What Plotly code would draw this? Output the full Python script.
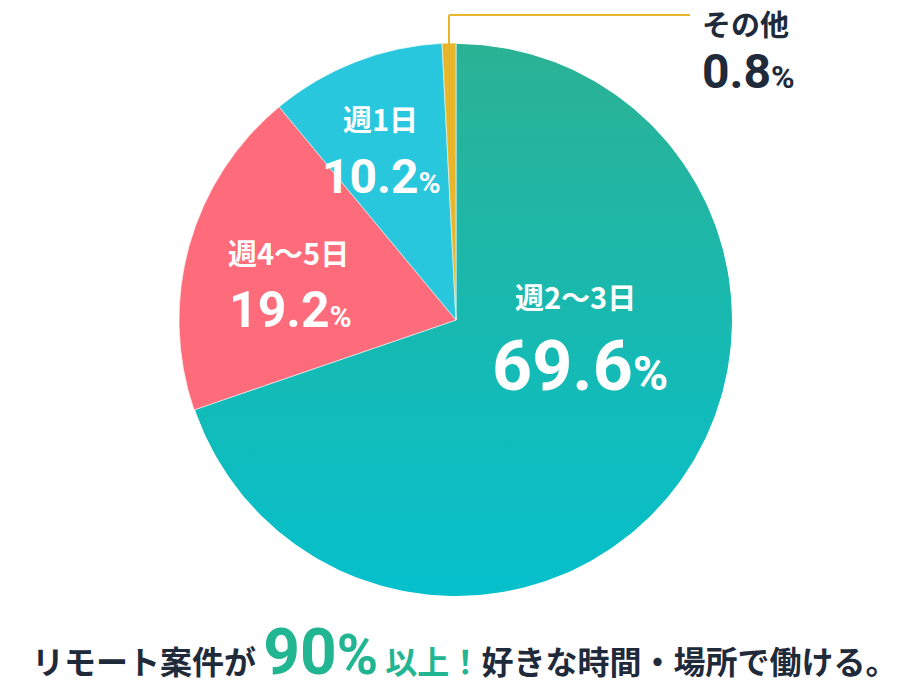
import numpy as np
import plotly.graph_objects as go

labels = ["週2〜3日", "週4〜5日", "週1日", "その他"]
values = [69.6, 19.2, 10.2, 0.8]
colors = ["rgba(0,0,0,0)", "#fe6b7a", "#28c7dd", "#e9b52a"]
grad_top, grad_bottom = "#2bb294", "#05c0cc"   # gradient of the main slice

W, H = 900, 692
CX, CY, R = 456, 320, 277  # pixel geometry of the pie

def px(x):
    return x / W

def py(y):
    return (H - y) / H

FONT = "Noto Sans CJK JP"
NUM = "Roboto"
DARK = "#1f2a3a"
GREEN = "#22b592"

fig = go.Figure()

# gradient backdrop for the main (transparent) slice
t = np.linspace(0, 2 * np.pi, 361)
fig.add_trace(go.Scatter(
    x=CX + (R - 1) * np.cos(t), y=(H - CY) + (R - 1) * np.sin(t),
    mode="lines", line=dict(width=0), fill="toself",
    fillgradient=dict(type="vertical", colorscale=[[0, grad_bottom], [1, grad_top]]),
    hoverinfo="skip", showlegend=False,
))

fig.add_trace(go.Pie(
    labels=labels, values=values, sort=False, direction="clockwise", rotation=0,
    marker=dict(colors=colors, line=dict(color="#ffffff", width=0.6)),
    textinfo="none", hoverinfo="label+percent", showlegend=False,
    domain=dict(x=[px(CX - R), px(CX + R)], y=[py(CY + R), py(CY - R)]),
))

def pct(v, big, small):
    return (f"<span style='font-size:{big}px'><b>{v}</b></span>"
            f"<span style='font-size:{small}px'><b>%</b></span>")

ann = []
# slice labels: (index, name pos, value pos, name size, big, small, color)
specs = [
    (0, (575, 296), (580, 366), 29, 70, 48, "#ffffff"),
    (1, (288, 252), (290, 310), 29, 50, 30, "#ffffff"),
    (2, (380, 118), (381, 176), 29, 48, 30, "#ffffff"),
    (3, (745, None), (748, 72), 29, 48, 32, DARK),
]
for i, (nx, ny), (vx, vy), ns, big, small, col in specs:
    if ny is None:
        ann.append(dict(x=px(nx), y=1, xref="paper", yref="paper", showarrow=False,
                        text=f"<b>{labels[i]}</b>", font=dict(family=FONT, size=ns, color=col),
                        xanchor="center", yanchor="top"))
    else:
        ann.append(dict(x=px(nx), y=py(ny), xref="paper", yref="paper", showarrow=False,
                        text=f"<b>{labels[i]}</b>", font=dict(family=FONT, size=ns, color=col),
                        xanchor="center", yanchor="middle"))
    ann.append(dict(x=px(vx), y=py(vy), xref="paper", yref="paper", showarrow=False,
                    text=pct(values[i], big, small), font=dict(family=NUM, size=big, color=col),
                    xanchor="center", yanchor="middle"))

# bottom headline
head = (f"<span style='color:{DARK}'><b>リモート案件が </b></span>"
        f"<span style='color:{GREEN};font-family:{NUM};font-size:64px'><b>90</b></span>"
        f"<span style='color:{GREEN};font-family:{NUM};font-size:56px'><b>%</b></span>"
        f"<span style='color:{GREEN}'><b> 以上！</b></span>"
        f"<span style='color:{DARK}'><b>好きな時間・場所で働ける。</b></span>")
ann.append(dict(x=px(464), y=0, xref="paper", yref="paper", showarrow=False,
                text=head, font=dict(family=FONT, size=32, color=DARK),
                xanchor="center", yanchor="bottom"))

shapes = [
    dict(type="line", xref="paper", yref="paper", x0=px(449), y0=py(44), x1=px(449), y1=py(15),
         line=dict(color="#e9b52a", width=2)),
    dict(type="line", xref="paper", yref="paper", x0=px(449), y0=py(15), x1=px(690), y1=py(15),
         line=dict(color="#e9b52a", width=2)),
]

fig.update_layout(
    width=W, height=H, margin=dict(l=0, r=0, t=0, b=0),
    paper_bgcolor="#ffffff", plot_bgcolor="rgba(0,0,0,0)",
    xaxis=dict(range=[0, W], visible=False, fixedrange=True, domain=[0, 1]),
    yaxis=dict(range=[0, H], visible=False, fixedrange=True, domain=[0, 1]),
    annotations=ann, shapes=shapes,
)
fig.write_html("out.html", config={"displayModeBar": False},
               post_script="document.body.style.margin='0';")
